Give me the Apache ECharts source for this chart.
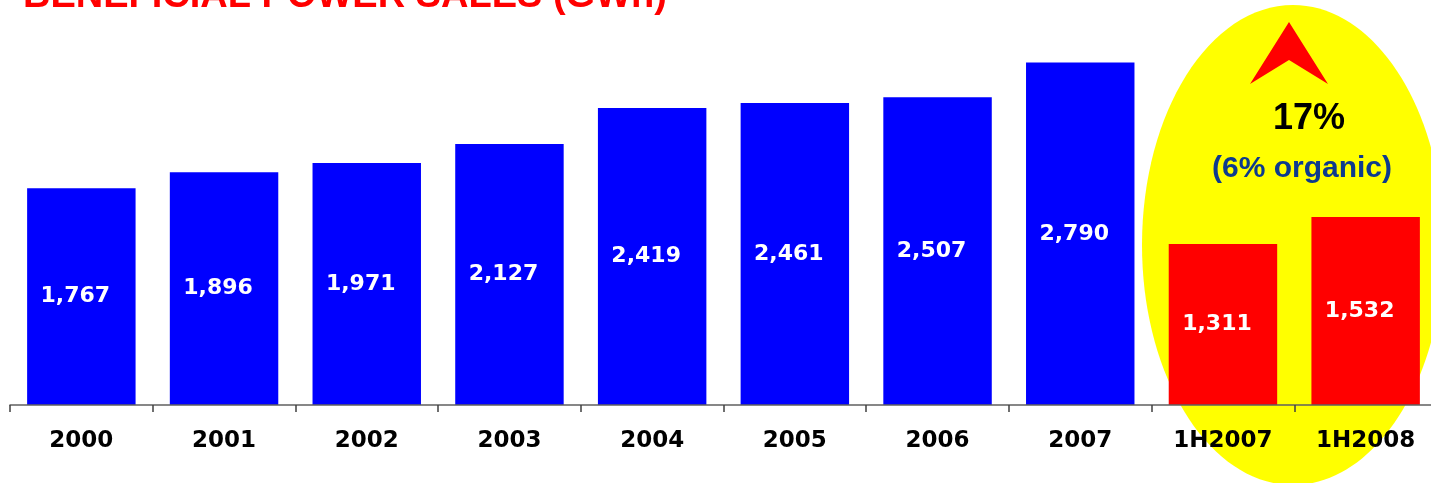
<!DOCTYPE html>
<html>
<head>
<meta charset="utf-8">
<script src="https://cdn.jsdelivr.net/npm/echarts@6/dist/echarts.min.js"></script>
<style>
html,body{margin:0;padding:0;background:#fff;overflow:hidden;}
#chart{width:1440px;height:483px;}
</style>
</head>
<body>
<div id="chart"></div>
<script>
const titleText = 'BENEFICIAL POWER SALES (GWh)';
const categories = ['2000', '2001', '2002', '2003', '2004', '2005', '2006', '2007', '1H2007', '1H2008'];
const salesGWh = [1767, 1896, 1971, 2127, 2419, 2461, 2507, 2790, 1311, 1532];
const fullYearCount = 8;
const growthText = '17%';
const organicText = '(6% organic)';

const chart = echarts.init(document.getElementById('chart'), null, {renderer: 'canvas'});
const labelFont = '"DejaVu Sans", Verdana, sans-serif';
const arialFont = '"Liberation Sans", Arial, sans-serif';

chart.setOption({
  animation: false,
  backgroundColor: '#ffffff',
  title: {
    text: titleText,
    left: 18,
    top: -27,
    textStyle: {color: '#ff0000', fontSize: 38, fontWeight: 'bold', fontFamily: arialFont}
  },
  grid: {left: 10, top: 0, width: 1427, height: 405, containLabel: false},
  xAxis: {
    type: 'category',
    data: categories,
    boundaryGap: true,
    axisLine: {show: true, lineStyle: {color: '#606060', width: 1.5}},
    axisTick: {show: true, length: 7, lineStyle: {color: '#404040', width: 1.5}},
    axisLabel: {
      margin: 25,
      color: '#000000',
      fontSize: 23,
      fontWeight: 'bold',
      fontFamily: labelFont,
      interval: 0
    },
    z: 3
  },
  yAxis: {type: 'value', min: 0, max: 3300, show: false, splitLine: {show: false}},
  graphic: [
    {
      type: 'ellipse',
      z: -10,
      silent: true,
      shape: {cx: 1293, cy: 245, rx: 151, ry: 240},
      style: {fill: '#ffff00'}
    },
    {
      type: 'polygon',
      z: 10,
      silent: true,
      shape: {points: [[1289, 22], [1328, 84], [1289, 60], [1250, 84]]},
      style: {fill: '#ff0000'}
    },
    {
      type: 'text',
      z: 10,
      silent: true,
      x: 1309, y: 119,
      style: {text: growthText, fill: '#000000', font: 'bold 36px ' + arialFont, textAlign: 'center', textVerticalAlign: 'middle'}
    },
    {
      type: 'text',
      z: 10,
      silent: true,
      x: 1302, y: 169,
      style: {text: organicText, fill: '#0d3a8e', font: 'bold 30px ' + arialFont, textAlign: 'center', textVerticalAlign: 'middle'}
    }
  ],
  series: [{
    type: 'bar',
    data: salesGWh,
    barWidth: '76%',
    z: 2,
    itemStyle: {
      color: function (p) { return p.dataIndex < fullYearCount ? '#0000ff' : '#ff0000'; }
    },
    label: {
      show: true,
      position: 'inside',
      offset: [-6, 0],
      color: '#ffffff',
      fontSize: 22,
      fontWeight: 'bold',
      fontFamily: labelFont,
      formatter: function (p) { return p.value.toLocaleString('en-US'); }
    }
  }]
});
</script>
</body>
</html>
